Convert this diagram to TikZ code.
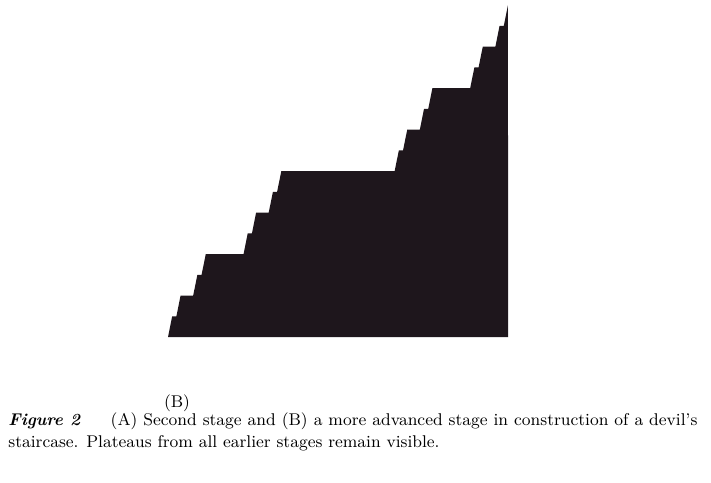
\documentclass[tikz,border=0pt]{standalone}
\usepackage{tikz}
\usetikzlibrary{positioning,calc}
\definecolor{stairfill}{RGB}{30,22,28}

\begin{document}
\begin{tikzpicture}[x=0.5pt,y=-0.5pt]
    \useasboundingbox (0,0) rectangle (711,482);

    % devil's staircase, fourth stage
    \fill[stairfill] (168,337)
        \foreach \k in {0,...,15}{
            -- ({168+680*(floor(\k/8)/3+mod(floor(\k/4),2)/9+mod(floor(\k/2),2)/27+mod(\k,2)/81)}, {337-332*\k/16})
            -- ({168+680*(floor(\k/8)/3+mod(floor(\k/4),2)/9+mod(floor(\k/2),2)/27+mod(\k,2)/81)+340/81}, {337-332*(\k+1)/16})
        } -- (508,337) -- cycle;

    \node[font=\fontsize{8.5}{11}\selectfont] (label) at (177,403) {(B)};

    \node[anchor=west, align=left, inner sep=0pt, font=\fontsize{8.5}{11}\selectfont] (caption) at (8,432) {
        \hbox to 344.5pt{\textbf{\textit{Figure 2}}\hspace{15pt}(A) Second stage and (B) a more advanced stage in construction of a devil's} \\
        staircase. Plateaus from all earlier stages remain visible.
    };
\end{tikzpicture}
\end{document}
